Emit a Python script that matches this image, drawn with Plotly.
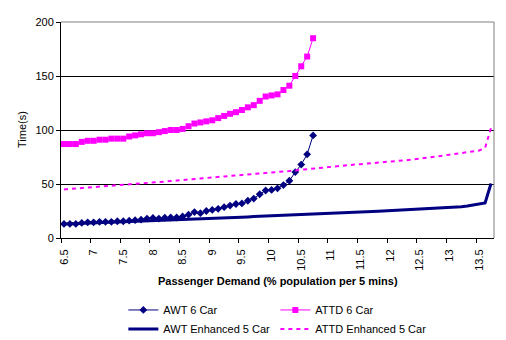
import plotly.graph_objects as go

# Passenger demand categories (% population per 5 mins)
demand_6car = [round(6.5 + 0.1 * i, 1) for i in range(43)]
demand_5car = [round(6.5 + 0.1 * i, 1) for i in range(73)]

awt_6car = [13, 13, 13, 14, 14.5, 14.5, 15, 15, 15, 15.5,
            15.5, 16, 16.5, 17, 18, 18.5, 18, 18.8, 19, 19,
            20, 21.6, 24, 23, 25, 26, 27, 28.5, 30, 31.5,
            32, 34.5, 36.5, 40.5, 44, 44.5, 46, 49, 53, 61,
            68, 77.5, 95]

attd_6car = [87, 87, 87, 89, 90, 90, 91, 91, 92, 92,
             92, 94, 95, 96, 97, 97, 98, 99, 100, 100,
             101, 103.5, 106, 107, 108, 109, 111, 113, 115, 116.5,
             118.5, 121, 123, 127, 131, 132, 133, 137, 141, 150,
             159, 168, 185]

awt_enh_5car = [13, 13.2, 13.4, 13.5, 13.7, 13.8, 14, 14.1, 14.3, 14.4,
                14.6, 14.8, 15, 15.2, 15.5, 15.7, 16, 16.3, 16.6, 16.8,
                17, 17.2, 17.4, 17.6, 17.9, 18.1, 18.3, 18.6, 18.8, 19,
                19.3, 19.5, 19.8, 20, 20.2, 20.4, 20.6, 20.8, 21, 21.2,
                21.4, 21.7, 22, 22.3, 22.6, 22.9, 23.2, 23.4, 23.7, 23.9,
                24.1, 24.3, 24.5, 24.8, 25.1, 25.3, 25.5, 25.8, 26, 26.2,
                26.5, 26.8, 27, 27.3, 27.6, 27.9, 28.3, 28.9, 29.6, 30.5,
                31.5, 32.5, 50.5]

attd_enh_5car = [45, 45.4, 45.8, 46.2, 46.6, 47, 47.3, 47.8, 48.4, 49,
                 49.5, 49.9, 50.3, 50.6, 51, 51.3, 51.8, 52.3, 52.7, 53.2,
                 53.6, 54.3, 55, 55.4, 55.8, 56.2, 56.6, 57, 57.5, 57.9,
                 58.4, 58.9, 59.5, 60, 60.4, 60.8, 61.2, 61.6, 62, 62.6,
                 63.2, 63.8, 64.4, 65, 65.5, 66, 66.6, 67.1, 67.6, 68,
                 68.4, 68.8, 69.2, 69.7, 70.1, 70.5, 71, 71.6, 72.2, 72.8,
                 73.4, 74.2, 75, 75.7, 76.4, 77.1, 77.8, 78.6, 79.4, 80.2,
                 81, 83.5, 102]

tick_vals = [6.5 + 0.5 * k for k in range(15)]
tick_text = ["6.5", "7", "7.5", "8", "8.5", "9", "9.5", "10", "10.5",
             "11", "11.5", "12", "12.5", "13", "13.5"]
minor_ticks = [6.45 + 0.5 * k for k in range(15)]
y_ticks = [0, 50, 100, 150, 200]

NAVY = "#000080"
MAGENTA = "#FF00FF"
FONT = "Arial, Liberation Sans, sans-serif"

fig = go.Figure()
fig.add_trace(go.Scatter(x=demand_6car, y=awt_6car, name="AWT 6 Car",
                         mode="lines+markers",
                         line=dict(color=NAVY, width=1),
                         marker=dict(symbol="diamond", size=6, color=NAVY)))
fig.add_trace(go.Scatter(x=demand_6car, y=attd_6car, name="ATTD 6 Car",
                         mode="lines+markers",
                         line=dict(color=MAGENTA, width=1),
                         marker=dict(symbol="square", size=6, color=MAGENTA)))
fig.add_trace(go.Scatter(x=demand_5car, y=awt_enh_5car, name="AWT Enhanced 5 Car",
                         mode="lines",
                         line=dict(color=NAVY, width=3)))
fig.add_trace(go.Scatter(x=demand_5car, y=attd_enh_5car, name="ATTD Enhanced 5 Car",
                         mode="lines",
                         line=dict(color=MAGENTA, width=2, dash="4px,4px")))

fig.update_layout(
    width=506, height=340,
    margin=dict(l=61, r=12, t=22, b=102, autoexpand=False),
    paper_bgcolor="white", plot_bgcolor="white",
    font=dict(family=FONT, size=11, color="black"),
    showlegend=True,
    legend=dict(orientation="h", x=0.144, xanchor="left",
                yref="container", y=0.131, yanchor="top",
                entrywidth=107, entrywidthmode="pixels",
                font=dict(family=FONT, size=11, color="black"),
                bgcolor="rgba(0,0,0,0)", traceorder="normal"),
    xaxis=dict(range=[6.45, 13.75], tickmode="array", tickvals=tick_vals,
               ticktext=tick_text, tickangle=-90, ticks="", showgrid=False,
               zeroline=False, showline=True, linecolor="black", linewidth=1,
               ticklabelstandoff=6,
               minor=dict(tickmode="array", tickvals=minor_ticks, ticks="outside",
                          ticklen=4, tickcolor="black", showgrid=False),
               tickfont=dict(family=FONT, size=11, color="black")),
    yaxis=dict(range=[0, 200], tickmode="array", tickvals=y_ticks,
               ticks="outside", ticklen=4, tickcolor="black",
               showgrid=True, gridcolor="black", gridwidth=1,
               zeroline=False, showline=True, linecolor="black", linewidth=1,
               tickfont=dict(family=FONT, size=11, color="black")),
    shapes=[
        dict(type="line", xref="paper", yref="paper", x0=0, x1=1, y0=1, y1=1,
             line=dict(color="#808080", width=1), layer="above"),
        dict(type="line", xref="paper", yref="paper", x0=1, x1=1, y0=0, y1=1,
             line=dict(color="#808080", width=1), layer="above"),
    ],
    annotations=[
        dict(text="<b>Passenger Demand (% population per 5 mins)</b>",
             xref="paper", yref="paper", x=0.5, y=-0.199, xanchor="center",
             yanchor="middle", showarrow=False,
             font=dict(family=FONT, size=11, color="black")),
        dict(text="Time(s)", xref="paper", yref="paper", x=-0.09, y=0.5,
             xanchor="center", yanchor="middle", textangle=-90, showarrow=False,
             font=dict(family=FONT, size=11, color="black")),
    ],
)

fig.write_html("out.html")
